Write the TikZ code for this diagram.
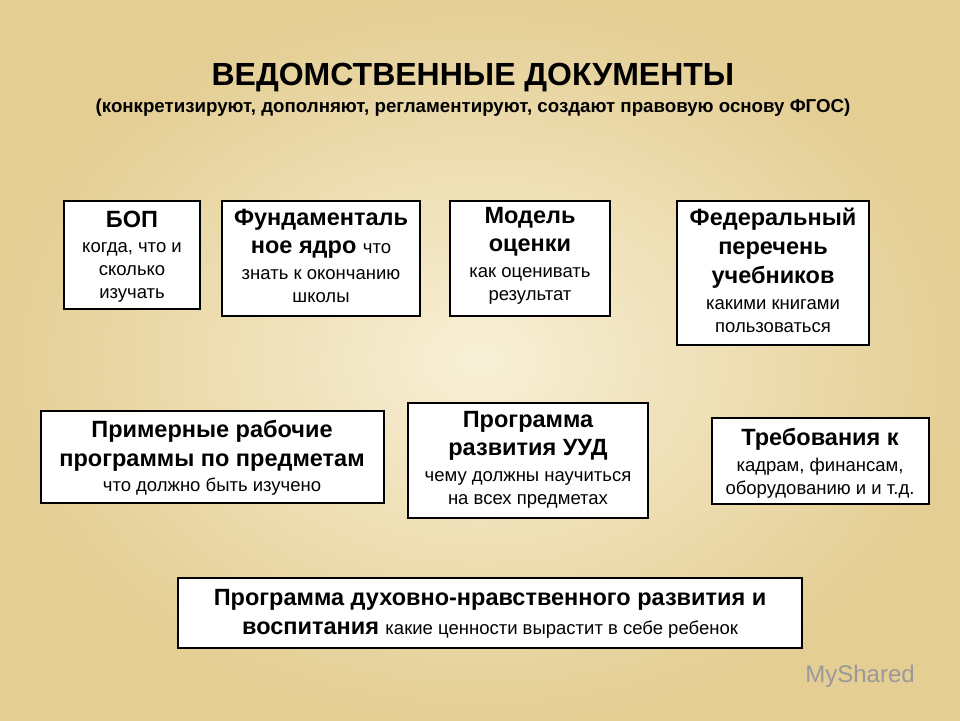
\documentclass[tikz,border=0pt]{standalone}
\usepackage{fontspec}
\setmainfont{Liberation Sans}
\begin{document}
\begin{tikzpicture}[x=1pt,y=-1pt,
  box/.style={draw=black,line width=1.5pt,fill=white,inner sep=0pt},
  txt/.style={align=center,font=\fontsize{18.5}{23}\selectfont,inner sep=0pt},
]
\useasboundingbox (0,0) rectangle (960,720);
\shade[inner color={rgb,255:red,248;green,240;blue,214},outer color={rgb,255:red,228;green,206;blue,148}] (0,0) rectangle (960,720);
\newcommand{\sm}{\fontsize{18.5}{23}\selectfont\mdseries}
\newcommand{\bg}{\fontsize{23.5}{23}\selectfont\bfseries}
\node[font=\fontsize{32}{36}\selectfont\bfseries] (t) at (473,78) {ВЕДОМСТВЕННЫЕ ДОКУМЕНТЫ};
\node[font=\fontsize{18.7}{22}\selectfont\bfseries] (st) at (473,108) {(конкретизируют, дополняют, регламентируют, создают правовую основу ФГОС)};
\draw[box] (64,201) rectangle (200,309);
\node[txt] (b1) at (132,257) {\bg БОП\\[2pt]\sm когда, что и\\\sm сколько\\\sm изучать};
\draw[box] (222,201) rectangle (420,316);
\node[txt] (b2) at (321,256) {\bg Фундаменталь\\[5pt]\bg ное ядро {\sm что}\\[3pt]\sm знать к окончанию\\\sm школы};
\draw[box] (450,201) rectangle (610,316);
\node[txt] (b3) at (530,256) {\bg Модель\\[5pt]\bg оценки\\[3pt]\sm как оценивать\\\sm результат};
\draw[box] (677,201) rectangle (869,345);
\node[txt] (b4) at (773,270) {\bg Федеральный\\[6pt]\bg перечень\\[6pt]\bg учебников\\[3pt]\sm какими книгами\\\sm пользоваться};
\draw[box] (41,411) rectangle (384,503);
\node[txt] (b5) at (212,458) {\bg Примерные рабочие\\[6pt]\bg программы по предметам\\[2pt]\sm что должно быть изучено};
\draw[box] (408,403) rectangle (648,518);
\node[txt] (b6) at (528,460) {\bg Программа\\[5pt]\bg развития УУД\\[3pt]\sm чему должны научиться\\\sm на всех предметах};
\draw[box] (712,418) rectangle (929,504);
\node[txt] (b7) at (820,463) {\bg Требования к\\[3pt]\sm кадрам, финансам,\\\sm оборудованию и и т.д.};
\draw[box] (178,578) rectangle (802,648);
\node[txt] (b8) at (490,614) {\bg Программа духовно-нравственного развития и\\[6pt]\bg воспитания {\sm какие ценности вырастит в себе ребенок}};
\node[text=black!40,font=\fontsize{24}{28}\selectfont] (logo) at (860,676) {MyShared};
\end{tikzpicture}
\end{document}
